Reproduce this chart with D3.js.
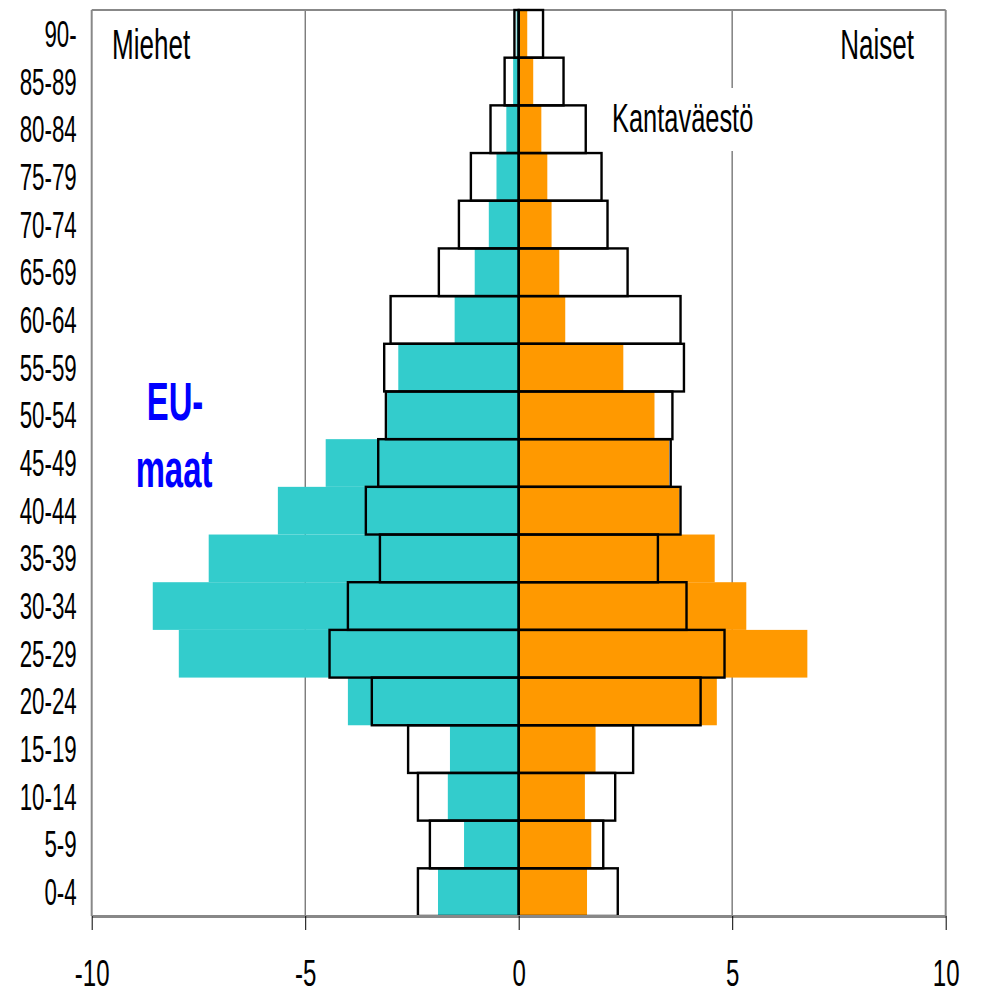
<!DOCTYPE html>
<html>
<head>
<meta charset="utf-8">
<script src="https://cdn.jsdelivr.net/npm/d3@7"></script>
<style>
  body { margin: 0; background: #fff; }
  text { font-family: "Liberation Sans", Arial, sans-serif; }
</style>
</head>
<body>
<div id="chart"></div>
<script>
(function(d3) {
    'use strict'

    // age groups, bottom to top
    var ages = ['0-4', '5-9', '10-14', '15-19', '20-24', '25-29', '30-34', '35-39', '40-44',
        '45-49', '50-54', '55-59', '60-64', '65-69', '70-74', '75-79', '80-84', '85-89', '90-'];

    // share of population, % (men drawn to the left)
    var euMen = [1.89, 1.28, 1.66, 1.61, 4.00, 7.96, 8.57, 7.26, 5.64, 4.52, 3.08, 2.82, 1.50, 1.03, 0.70, 0.52, 0.29, 0.13, 0.05];
    var euWomen = [1.60, 1.70, 1.55, 1.80, 4.64, 6.76, 5.33, 4.59, 3.76, 3.52, 3.18, 2.45, 1.09, 0.95, 0.77, 0.67, 0.53, 0.34, 0.20];
    var baseMen = [2.36, 2.08, 2.36, 2.59, 3.44, 4.43, 4.00, 3.25, 3.58, 3.29, 3.11, 3.15, 3.00, 1.87, 1.40, 1.12, 0.66, 0.33, 0.10];
    var baseWomen = [2.32, 1.98, 2.26, 2.68, 4.26, 4.82, 3.93, 3.26, 3.79, 3.56, 3.60, 3.87, 3.79, 2.55, 2.08, 1.94, 1.57, 1.05, 0.57];

    var xTicks = [-10, -5, 0, 5, 10];

    var width = 981;
    var height = 994;
    var left = 91.7, right = 945.7, top = 10, bottom = 916;
    var sx = 0.62; // text is drawn narrow

    var svg = d3.select('#chart')
        .append('svg')
        .attr('width', width)
        .attr('height', height);

    var x = d3.scaleLinear().domain([-10, 10]).range([left, right]);
    var y = d3.scaleBand().domain(ages).range([bottom, top]).padding(0);

    var rows = ages.map(function(a, i) {
        return { age: a, euM: euMen[i], euW: euWomen[i], bM: baseMen[i], bW: baseWomen[i] };
    });

    // grid lines
    svg.append('line')
        .attr('x1', x(-5)).attr('x2', x(-5)).attr('y1', top).attr('y2', bottom)
        .attr('stroke', '#444').attr('stroke-width', 1);
    svg.append('line')
        .attr('x1', x(5)).attr('x2', x(5)).attr('y1', top).attr('y2', bottom)
        .attr('stroke', '#888').attr('stroke-width', 1.6);

    // EU bars
    svg.selectAll('rect.eum')
        .data(rows)
        .enter()
        .append('rect')
        .attr('class', 'eum')
        .attr('x', function(d) { return x(-d.euM); })
        .attr('y', function(d) { return y(d.age); })
        .attr('width', function(d) { return x(0) - x(-d.euM); })
        .attr('height', y.bandwidth())
        .attr('fill', '#33CCCC');

    svg.selectAll('rect.euw')
        .data(rows)
        .enter()
        .append('rect')
        .attr('class', 'euw')
        .attr('x', x(0))
        .attr('y', function(d) { return y(d.age); })
        .attr('width', function(d) { return x(d.euW) - x(0); })
        .attr('height', y.bandwidth())
        .attr('fill', '#FF9900');

    // plot frame
    svg.append('line').attr('x1', left).attr('x2', right).attr('y1', top).attr('y2', top)
        .attr('stroke', '#888').attr('stroke-width', 2);
    svg.append('line').attr('x1', left).attr('x2', left).attr('y1', top).attr('y2', bottom)
        .attr('stroke', '#888').attr('stroke-width', 2);
    svg.append('line').attr('x1', right).attr('x2', right).attr('y1', top).attr('y2', bottom)
        .attr('stroke', '#888').attr('stroke-width', 2);

    // Kantaväestö outlines
    svg.selectAll('rect.bm')
        .data(rows)
        .enter()
        .append('rect')
        .attr('class', 'bm')
        .attr('x', function(d) { return x(-d.bM); })
        .attr('y', function(d) { return y(d.age); })
        .attr('width', function(d) { return x(0) - x(-d.bM); })
        .attr('height', y.bandwidth())
        .attr('fill', 'none')
        .attr('stroke', '#000')
        .attr('stroke-width', 2.4);

    svg.selectAll('rect.bw')
        .data(rows)
        .enter()
        .append('rect')
        .attr('class', 'bw')
        .attr('x', x(0))
        .attr('y', function(d) { return y(d.age); })
        .attr('width', function(d) { return x(d.bW) - x(0); })
        .attr('height', y.bandwidth())
        .attr('fill', 'none')
        .attr('stroke', '#000')
        .attr('stroke-width', 2.4);

    // x axis
    var xAxis = svg.append('g')
        .attr('transform', 'translate(0,' + bottom + ')')
        .call(d3.axisBottom(x).tickValues(xTicks).tickSize(14).tickSizeOuter(0).tickFormat(function(d) { return d; }));
    xAxis.select('.domain').attr('stroke', '#888').attr('stroke-width', 3);
    xAxis.selectAll('.tick line').attr('stroke', '#000').attr('stroke-width', 1);
    xAxis.selectAll('.tick text')
        .attr('y', 70)
        .attr('dy', null)
        .attr('font-size', 37)
        .attr('fill', '#000')
        .attr('transform', 'scale(0.65,1)');

    // y axis labels
    var yAxis = svg.append('g')
        .attr('transform', 'translate(' + left + ',0)')
        .call(d3.axisLeft(y).tickSize(0).tickPadding(0));
    yAxis.select('.domain').remove();
    yAxis.selectAll('.tick text')
        .attr('x', 0)
        .attr('dy', '0.36em')
        .attr('font-size', 36)
        .attr('fill', '#000')
        .attr('text-anchor', 'end')
        .attr('transform', 'translate(-15,0) scale(' + sx + ',1)');

    function label(txt, px, py, size, anchor, opts) {
        opts = opts || {};
        return svg.append('text')
            .attr('transform', 'translate(' + px + ',' + py + ') scale(' + sx + ',1)')
            .attr('text-anchor', anchor)
            .attr('font-size', size)
            .attr('font-weight', opts.bold ? 'bold' : 'normal')
            .attr('fill', opts.color || '#000')
            .text(txt);
    }

    label('Miehet', 112, 59, 42, 'start');
    label('Naiset', 914, 59, 42, 'end');

    svg.append('rect')
        .attr('x', 606).attr('y', 88).attr('width', 152).attr('height', 63)
        .attr('fill', '#fff');
    label('Kantaväestö', 612, 132, 41, 'start');

    label('EU-', 175, 420, 53, 'middle', { bold: true, color: '#0000FF' });
    label('maat', 174, 487, 53, 'middle', { bold: true, color: '#0000FF' });

})(window.d3);
</script>
</body>
</html>
